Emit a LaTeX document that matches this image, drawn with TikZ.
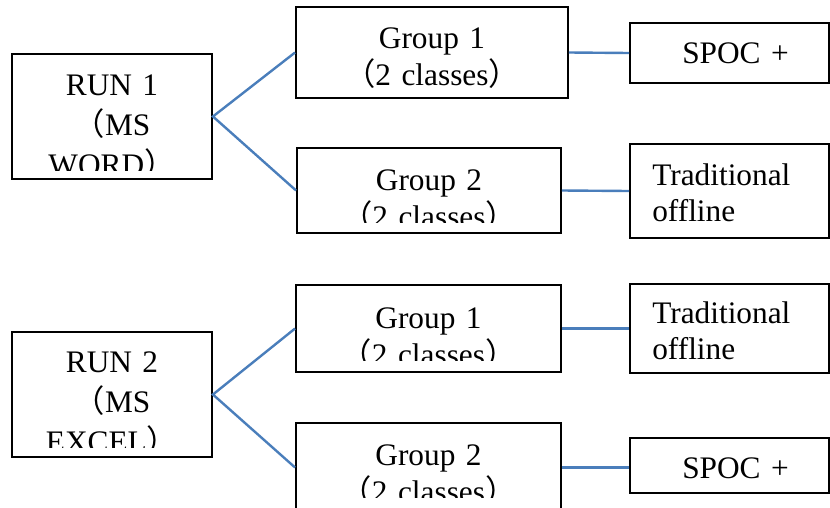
\documentclass[tikz,border=0pt]{standalone}
\usepackage{fontspec}
\setmainfont{Liberation Serif}
\newfontfamily\cjk{Noto Sans CJK SC}
\usetikzlibrary{positioning}
\definecolor{linkblue}{HTML}{4A7EBB}
\tikzset{
  box/.style={draw=black, line width=1.4pt, inner sep=0pt},
  boxtxt/.style={font=\fontsize{23.5}{27.75}\selectfont, inner sep=0pt, anchor=base, align=center, text width=#1},
  runtxt/.style={font=\fontsize{23.5}{30}\selectfont, inner sep=0pt, anchor=base, align=center, text width=135pt},
  lefttxt/.style={font=\fontsize{23.5}{27.5}\selectfont, inner sep=0pt, anchor=base west, align=left, text width=125pt},
  link/.style={draw=linkblue, line width=1.8pt}
}

\begin{document}
\begin{tikzpicture}[x=0.75pt, y=-0.75pt]

  % ---- Page frame ------------------------------------------------------------
  \useasboundingbox (0,0) rectangle (830,507);
  \clip (0,0) rectangle (830,507);

  % ---- Boxes -----------------------------------------------------------------
  \node[box, minimum width=150pt, minimum height=93.75pt] (run1) at (112, 116.5) {};
  \node[box, minimum width=150pt, minimum height=93.75pt] (run2) at (112, 394.5) {};

  \node[box, minimum width=204pt,    minimum height=68.25pt] (grpA1) at (432, 52.5) {};
  \node[box, minimum width=198pt,    minimum height=63.75pt] (grpA2) at (429, 190.5) {};
  \node[box, minimum width=198.75pt, minimum height=65.25pt] (grpB1) at (428.5, 328.5) {};
  \node[box, minimum width=198.75pt, minimum height=66.75pt] (grpB2) at (428.5, 467.5) {};

  \node[box, minimum width=149.25pt, minimum height=45pt]    (spocA) at (729.5, 53) {};
  \node[box, minimum width=149.25pt, minimum height=70.5pt]  (tradA) at (729.5, 191) {};
  \node[box, minimum width=149.25pt, minimum height=66.75pt] (tradB) at (729.5, 328.5) {};
  \node[box, minimum width=149.25pt, minimum height=41.25pt] (spocB) at (729.5, 465.5) {};

  % ---- Texts (cut off where the text frames end) ----------------------------
  \begin{scope}
    \clip (run1.north west) rectangle ([yshift=6.75pt]run1.south east);
    \node[runtxt] (run1-t) at (112, 95) {RUN 1\\{\cjk （}MS\\WORD{\cjk ）}};
  \end{scope}
  \begin{scope}
    \clip (run2.north west) rectangle ([yshift=7.5pt]run2.south east);
    \node[runtxt] (run2-t) at (112, 372) {RUN 2\\{\cjk （}MS\\EXCEL{\cjk ）}};
  \end{scope}

  \node[boxtxt=190pt] (grpA1-t) at (432, 48) {Group 1\\{\cjk （}2 classes{\cjk ）}};
  \begin{scope}
    \clip (grpA2.north west) rectangle ([yshift=8.25pt]grpA2.south east);
    \node[boxtxt=190pt] (grpA2-t) at (429, 190) {Group 2\\{\cjk （}2 classes{\cjk ）}};
  \end{scope}
  \begin{scope}
    \clip (grpB1.north west) rectangle ([yshift=9pt]grpB1.south east);
    \node[boxtxt=190pt] (grpB1-t) at (428.5, 328) {Group 1\\{\cjk （}2 classes{\cjk ）}};
  \end{scope}
  \begin{scope}
    \clip (grpB2.north west) rectangle ([yshift=11.25pt]grpB2.south east);
    \node[boxtxt=190pt] (grpB2-t) at (428.5, 465) {Group 2\\{\cjk （}2 classes{\cjk ）}};
  \end{scope}

  \node[boxtxt=140pt] (spocA-t) at (735.5, 63) {SPOC +};
  \node[boxtxt=140pt] (spocB-t) at (735.5, 478) {SPOC +};
  \node[lefttxt] (tradA-t) at (652, 185) {Traditional\\offline};
  \node[lefttxt] (tradB-t) at (652, 323) {Traditional\\offline};

  % ---- Connectors --------------------------------------------------------------
  \draw[link] (grpA1.west) -- (run1.east) -- (grpA2.west);
  \draw[link] (grpB1.west) -- (run2.east) -- (grpB2.west);
  \draw[link] (grpA1.east) -- (spocA.west);
  \draw[link] (grpA2.east) -- (tradA.west);
  \draw[link] (grpB1.east) -- (tradB.west);
  \draw[link] (grpB2.east) -- (grpB2.east -| spocB.west);

\end{tikzpicture}
\end{document}
